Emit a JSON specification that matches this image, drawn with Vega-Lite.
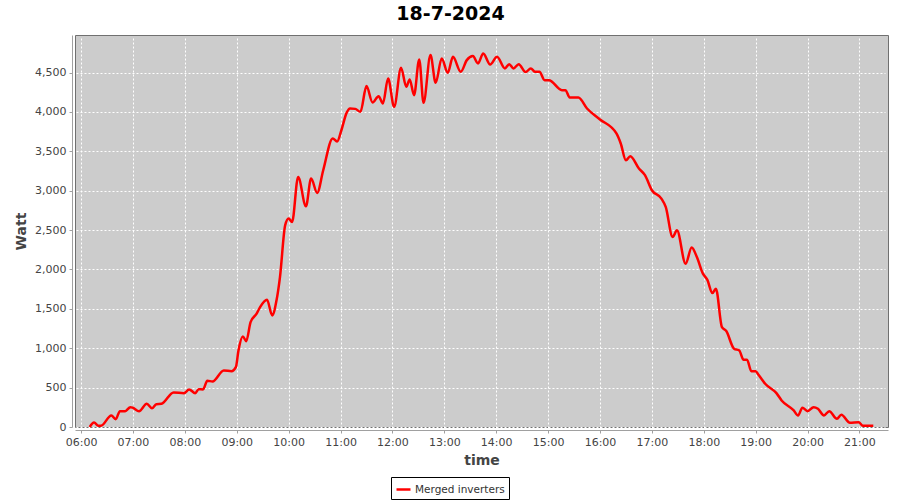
{
  "$schema": "https://vega.github.io/schema/vega-lite/v6.json",
  "width": 813,
  "height": 392,
  "autosize": {"type": "none"},
  "padding": {"left": 75, "top": 35, "right": 12, "bottom": 73},
  "background": "white",
  "title": {"text": "18-7-2024", "font": "DejaVu Sans", "fontSize": 19, "fontWeight": "bold", "color": "#000000", "anchor": "middle", "dx": -31, "offset": 11},
  "config": {
    "view": {"fill": "#cccccc", "stroke": "#707070", "strokeWidth": 1},
    "axis": {
      "labelFont": "DejaVu Sans", "labelFontSize": 11, "labelColor": "#444444",
      "titleFont": "DejaVu Sans", "titleFontSize": 14, "titleFontWeight": "bold", "titleColor": "#444444",
      "domainColor": "#a0a0a0", "tickColor": "#a0a0a0", "tickSize": 3,
      "gridColor": "#ffffff", "gridDash": [2, 2], "gridWidth": 1, "gridOpacity": 1,
      "offset": 3, "labelPadding": 3
    }
  },
  "data": {"values": [
    {"time": "2024-07-18T06:10", "watt": 0},
    {"time": "2024-07-18T06:15", "watt": 57},
    {"time": "2024-07-18T06:20", "watt": 15},
    {"time": "2024-07-18T06:23", "watt": 15},
    {"time": "2024-07-18T06:35", "watt": 146},
    {"time": "2024-07-18T06:40", "watt": 99},
    {"time": "2024-07-18T06:45", "watt": 201},
    {"time": "2024-07-18T06:51", "watt": 201},
    {"time": "2024-07-18T06:57", "watt": 252},
    {"time": "2024-07-18T07:00", "watt": 244},
    {"time": "2024-07-18T07:07", "watt": 201},
    {"time": "2024-07-18T07:16", "watt": 295},
    {"time": "2024-07-18T07:22", "watt": 239},
    {"time": "2024-07-18T07:27", "watt": 290},
    {"time": "2024-07-18T07:33", "watt": 295},
    {"time": "2024-07-18T07:47", "watt": 439},
    {"time": "2024-07-18T07:59", "watt": 430},
    {"time": "2024-07-18T08:05", "watt": 477},
    {"time": "2024-07-18T08:12", "watt": 430},
    {"time": "2024-07-18T08:16", "watt": 480},
    {"time": "2024-07-18T08:21", "watt": 477},
    {"time": "2024-07-18T08:26", "watt": 587},
    {"time": "2024-07-18T08:32", "watt": 578},
    {"time": "2024-07-18T08:45", "watt": 718},
    {"time": "2024-07-18T08:54", "watt": 709},
    {"time": "2024-07-18T08:59", "watt": 760},
    {"time": "2024-07-18T09:02", "watt": 972},
    {"time": "2024-07-18T09:07", "watt": 1150},
    {"time": "2024-07-18T09:11", "watt": 1090},
    {"time": "2024-07-18T09:16", "watt": 1332},
    {"time": "2024-07-18T09:23", "watt": 1439},
    {"time": "2024-07-18T09:27", "watt": 1523},
    {"time": "2024-07-18T09:35", "watt": 1617},
    {"time": "2024-07-18T09:41", "watt": 1417},
    {"time": "2024-07-18T09:46", "watt": 1608},
    {"time": "2024-07-18T09:50", "watt": 1904},
    {"time": "2024-07-18T09:56", "watt": 2561},
    {"time": "2024-07-18T10:00", "watt": 2646},
    {"time": "2024-07-18T10:04", "watt": 2603},
    {"time": "2024-07-18T10:11", "watt": 3175},
    {"time": "2024-07-18T10:20", "watt": 2802},
    {"time": "2024-07-18T10:26", "watt": 3154},
    {"time": "2024-07-18T10:33", "watt": 2972},
    {"time": "2024-07-18T10:40", "watt": 3260},
    {"time": "2024-07-18T10:51", "watt": 3663},
    {"time": "2024-07-18T10:56", "watt": 3625},
    {"time": "2024-07-18T11:01", "watt": 3768},
    {"time": "2024-07-18T11:07", "watt": 3988},
    {"time": "2024-07-18T11:11", "watt": 4044},
    {"time": "2024-07-18T11:17", "watt": 4039},
    {"time": "2024-07-18T11:23", "watt": 4001},
    {"time": "2024-07-18T11:30", "watt": 4328},
    {"time": "2024-07-18T11:37", "watt": 4120},
    {"time": "2024-07-18T11:44", "watt": 4200},
    {"time": "2024-07-18T11:49", "watt": 4108},
    {"time": "2024-07-18T11:55", "watt": 4425},
    {"time": "2024-07-18T12:02", "watt": 4065},
    {"time": "2024-07-18T12:10", "watt": 4560},
    {"time": "2024-07-18T12:16", "watt": 4319},
    {"time": "2024-07-18T12:20", "watt": 4413},
    {"time": "2024-07-18T12:25", "watt": 4213},
    {"time": "2024-07-18T12:31", "watt": 4667},
    {"time": "2024-07-18T12:36", "watt": 4116},
    {"time": "2024-07-18T12:44", "watt": 4722},
    {"time": "2024-07-18T12:50", "watt": 4370},
    {"time": "2024-07-18T12:57", "watt": 4680},
    {"time": "2024-07-18T13:04", "watt": 4497},
    {"time": "2024-07-18T13:10", "watt": 4700},
    {"time": "2024-07-18T13:19", "watt": 4509},
    {"time": "2024-07-18T13:26", "watt": 4658},
    {"time": "2024-07-18T13:33", "watt": 4709},
    {"time": "2024-07-18T13:39", "watt": 4616},
    {"time": "2024-07-18T13:45", "watt": 4743},
    {"time": "2024-07-18T13:53", "watt": 4603},
    {"time": "2024-07-18T14:01", "watt": 4700},
    {"time": "2024-07-18T14:10", "watt": 4553},
    {"time": "2024-07-18T14:15", "watt": 4607},
    {"time": "2024-07-18T14:20", "watt": 4553},
    {"time": "2024-07-18T14:26", "watt": 4607},
    {"time": "2024-07-18T14:34", "watt": 4506},
    {"time": "2024-07-18T14:40", "watt": 4553},
    {"time": "2024-07-18T14:45", "watt": 4509},
    {"time": "2024-07-18T14:50", "watt": 4509},
    {"time": "2024-07-18T14:56", "watt": 4404},
    {"time": "2024-07-18T15:01", "watt": 4404},
    {"time": "2024-07-18T15:16", "watt": 4277},
    {"time": "2024-07-18T15:20", "watt": 4277},
    {"time": "2024-07-18T15:25", "watt": 4184},
    {"time": "2024-07-18T15:35", "watt": 4184},
    {"time": "2024-07-18T15:45", "watt": 4044},
    {"time": "2024-07-18T16:00", "watt": 3905},
    {"time": "2024-07-18T16:19", "watt": 3727},
    {"time": "2024-07-18T16:24", "watt": 3600},
    {"time": "2024-07-18T16:30", "watt": 3387},
    {"time": "2024-07-18T16:35", "watt": 3438},
    {"time": "2024-07-18T16:45", "watt": 3282},
    {"time": "2024-07-18T16:52", "watt": 3197},
    {"time": "2024-07-18T17:00", "watt": 3006},
    {"time": "2024-07-18T17:11", "watt": 2900},
    {"time": "2024-07-18T17:16", "watt": 2794},
    {"time": "2024-07-18T17:24", "watt": 2412},
    {"time": "2024-07-18T17:29", "watt": 2497},
    {"time": "2024-07-18T17:39", "watt": 2074},
    {"time": "2024-07-18T17:46", "watt": 2278},
    {"time": "2024-07-18T17:52", "watt": 2158},
    {"time": "2024-07-18T17:59", "watt": 1947},
    {"time": "2024-07-18T18:04", "watt": 1871},
    {"time": "2024-07-18T18:10", "watt": 1700},
    {"time": "2024-07-18T18:14", "watt": 1756},
    {"time": "2024-07-18T18:21", "watt": 1268},
    {"time": "2024-07-18T18:26", "watt": 1218},
    {"time": "2024-07-18T18:35", "watt": 994},
    {"time": "2024-07-18T18:41", "watt": 972},
    {"time": "2024-07-18T18:46", "watt": 854},
    {"time": "2024-07-18T18:50", "watt": 854},
    {"time": "2024-07-18T18:55", "watt": 709},
    {"time": "2024-07-18T19:00", "watt": 709},
    {"time": "2024-07-18T19:03", "watt": 667},
    {"time": "2024-07-18T19:11", "watt": 549},
    {"time": "2024-07-18T19:24", "watt": 430},
    {"time": "2024-07-18T19:30", "watt": 337},
    {"time": "2024-07-18T19:44", "watt": 210},
    {"time": "2024-07-18T19:49", "watt": 146},
    {"time": "2024-07-18T19:54", "watt": 244},
    {"time": "2024-07-18T20:00", "watt": 201},
    {"time": "2024-07-18T20:07", "watt": 252},
    {"time": "2024-07-18T20:12", "watt": 231},
    {"time": "2024-07-18T20:19", "watt": 146},
    {"time": "2024-07-18T20:25", "watt": 201},
    {"time": "2024-07-18T20:34", "watt": 104},
    {"time": "2024-07-18T20:39", "watt": 155},
    {"time": "2024-07-18T20:49", "watt": 53},
    {"time": "2024-07-18T20:59", "watt": 61},
    {"time": "2024-07-18T21:04", "watt": 15},
    {"time": "2024-07-18T21:16", "watt": 15}
  ]},
  "mark": {"type": "line", "strokeWidth": 2.5, "interpolate": "monotone"},
  "encoding": {
    "x": {
      "field": "time", "type": "temporal",
      "scale": {"domain": [
        {"year": 2024, "month": 7, "date": 18, "hours": 5, "minutes": 53},
        {"year": 2024, "month": 7, "date": 18, "hours": 21, "minutes": 33}
      ], "nice": false},
      "axis": {"title": "time", "format": "%H:%M", "tickCount": 16, "labelFlush": false, "labelOverlap": false, "titlePadding": 6}
    },
    "y": {
      "field": "watt", "type": "quantitative",
      "scale": {"domain": [0, 4977], "nice": false},
      "axis": {"title": "Watt", "values": [0, 500, 1000, 1500, 2000, 2500, 3000, 3500, 4000, 4500], "format": ",.0f", "titlePadding": 6}
    },
    "color": {
      "datum": "Merged inverters", "type": "nominal",
      "scale": {"range": ["#ff0000"]},
      "legend": {"title": null, "orient": "none", "legendX": 316, "legendY": 442, "direction": "horizontal",
        "strokeColor": "#000000", "fillColor": "#ffffff", "padding": 4, "cornerRadius": 0,
        "symbolType": "stroke", "symbolStrokeWidth": 2.5, "symbolSize": 196, "labelOffset": 3,
        "labelFont": "DejaVu Sans", "labelFontSize": 10.5, "labelColor": "#333333"}
    }
  }
}
